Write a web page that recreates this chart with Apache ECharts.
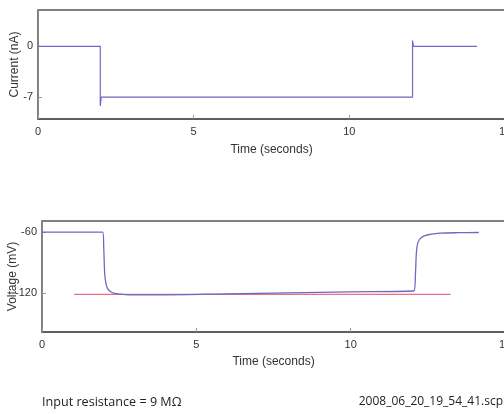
<!DOCTYPE html>
<html>
<head>
<meta charset="utf-8">
<script src="https://cdn.jsdelivr.net/npm/echarts@6/dist/echarts.min.js"></script>
<style>html,body{margin:0;padding:0;background:#fff;}#c{width:504px;height:414px;}</style>
</head>
<body>
<div id="c"></div>
<script>
// Current trace (seconds, nA)
const currentTime   = [0, 2.0, 2.0, 2.03, 12.03, 12.03, 12.06, 14.1];
const currentValues = [0, 0, -8.2, -7, -7, 0.8, 0, 0];
// Voltage trace (seconds, mV)
const voltageTime   = [0, 1.97, 2.0, 2.03, 2.07, 2.12, 2.2, 2.35, 2.6, 3, 4, 6, 8, 10, 12.05, 12.1, 12.13, 12.18, 12.3, 12.5, 12.9, 13.5, 14.15];
const voltageValues = [-60, -60, -75, -100, -110, -115, -118, -120, -121, -121.5, -121.5, -120.5, -119.5, -118.5, -117.5, -100, -80, -70, -65, -62.5, -61, -60.5, -60.3];
// Reference (red) line
const refTime   = [1.04, 13.24];
const refValues = [-121, -121];
// Tick labels
const xTicks = [0, 5, 10, 15];
const currentTicks = [0, -7];
const voltageTicks = [-60, -120];

const pair = (xs, ys) => xs.map((x, i) => [x, ys[i]]);
const font = 'Liberation Sans, Arial, sans-serif';

function xAxis(gi) {
  return {
    gridIndex: gi, type: 'value', min: 0, max: 15, interval: 5,
    name: 'Time (seconds)', nameLocation: 'middle', nameGap: gi === 0 ? 25 : 24, nameMoveOverlap: false,
    nameTextStyle: { fontFamily: font, fontSize: 12, color: '#333' },
    axisLine: { show: true, onZero: false, lineStyle: { color: '#555', width: 1.5 } },
    axisTick: { show: true, inside: true, length: 4, lineStyle: { color: '#999' } },
    axisLabel: { fontFamily: font, fontSize: 11, color: '#333', margin: 7, hideOverlap: false },
    splitLine: { show: false }
  };
}
function yAxis(gi, name, min, max, ticks, gap) {
  return {
    gridIndex: gi, type: 'value', min: min, max: max,
    name: name, nameLocation: 'middle', nameGap: gap, nameRotate: 90, nameMoveOverlap: false,
    nameTextStyle: { fontFamily: font, fontSize: 12, color: '#333' },
    axisLine: { show: true, onZero: false, lineStyle: { color: '#888', width: 1 } },
    axisTick: { show: true, inside: true, length: 4, customValues: ticks, lineStyle: { color: '#999' } },
    axisLabel: { fontFamily: font, fontSize: 11, color: '#333', margin: 5, customValues: ticks },
    splitLine: { show: false }
  };
}

const chart = echarts.init(document.getElementById('c'), null, { renderer: 'canvas' });
chart.setOption({
  animation: false,
  backgroundColor: '#fff',
  grid: [
    { left: 38, right: -1, top: 10, bottom: 295, containLabel: false, outerBoundsMode: 'none', show: true, borderColor: '#555', borderWidth: 1.5, backgroundColor: 'transparent' },
    { left: 42, right: -1, top: 221, bottom: 82, containLabel: false, outerBoundsMode: 'none', show: true, borderColor: '#555', borderWidth: 1.5, backgroundColor: 'transparent' }
  ],
  xAxis: [xAxis(0), xAxis(1)],
  yAxis: [
    yAxis(0, 'Current (nA)', -10, 5, currentTicks, 17),
    yAxis(1, 'Voltage (mV)', -158, -49, voltageTicks, 23)
  ],
  series: [
    { type: 'line', xAxisIndex: 0, yAxisIndex: 0, data: pair(currentTime, currentValues), showSymbol: false, lineStyle: { color: '#6a6ac0', width: 1.2 } },
    { type: 'line', xAxisIndex: 1, yAxisIndex: 1, data: pair(refTime, refValues), showSymbol: false, lineStyle: { color: '#ec6f86', width: 1.3 } },
    { type: 'line', xAxisIndex: 1, yAxisIndex: 1, data: pair(voltageTime, voltageValues), showSymbol: false, smooth: 0.3, lineStyle: { color: '#6a6ac0', width: 1.3 } }
  ],
  graphic: [
    { type: 'text', left: 42, top: 396, style: { text: 'Input resistance = 9 M\u03A9', font: '12.6px "Open Sans", sans-serif', fill: '#222' } },
    { type: 'text', right: 1, top: 396, style: { text: '2008_06_20_19_54_41.scp', font: '12px "Open Sans", sans-serif', fill: '#222' } }
  ]
});
</script>
</body>
</html>
